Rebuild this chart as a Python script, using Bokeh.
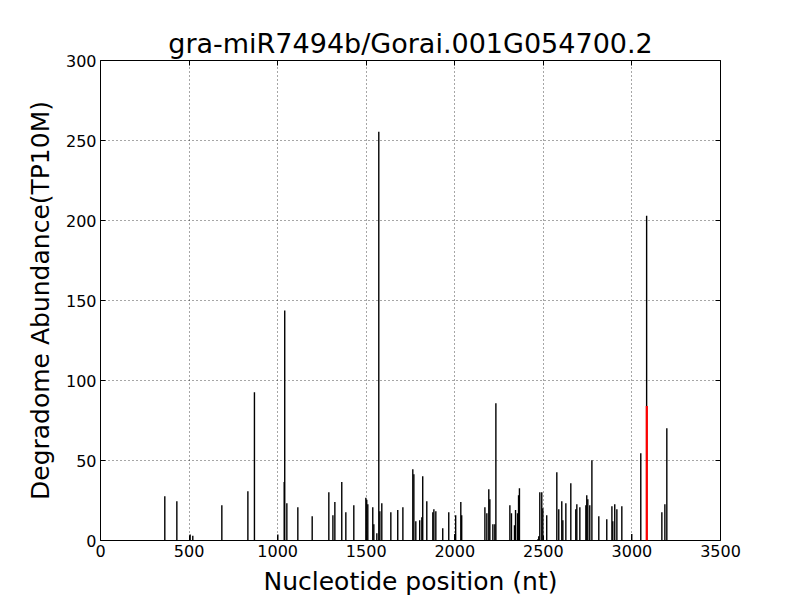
from bokeh.plotting import figure
from bokeh.models import LinearAxis, Range1d, FixedTicker
from bokeh.embed import file_html
from bokeh.resources import INLINE

positions = [363, 431, 506, 521, 685, 832, 869, 1001, 1037, 1040, 1052, 1114,
             1195, 1289, 1312, 1323, 1362, 1385, 1430, 1498, 1503, 1509, 1537,
             1543, 1560, 1571, 1577, 1588, 1639, 1678, 1707, 1763, 1769, 1780,
             1802, 1814, 1819, 1842, 1876, 1882, 1893, 1932, 1966, 2000, 2005,
             2034, 2039, 2170, 2181, 2192, 2198, 2215, 2226, 2232, 2311, 2320,
             2337, 2343, 2354, 2360, 2365, 2469, 2474, 2480, 2491, 2497, 2519,
             2576, 2587, 2604, 2610, 2627, 2655, 2683, 2689, 2706, 2740, 2745,
             2751, 2762, 2774, 2813, 2858, 2887, 2892, 2903, 2915, 2943, 2999,
             3050, 3083, 3169, 3186, 3197]
abundance = [27.7, 24.6, 3.8, 2.9, 22.1, 30.8, 92.7, 3.8, 36.5, 143.7, 23.3, 20.8,
             15.2, 30.2, 15.8, 24.0, 36.5, 17.7, 22.1, 26.7, 25.4, 22.7, 20.8,
             10.2, 4.6, 255.5, 18.3, 23.3, 17.7, 19.0, 20.8, 44.6, 41.4, 12.1,
             12.7, 14.6, 40.2, 24.6, 17.7, 19.6, 18.3, 7.7, 17.7, 4.0, 15.8,
             24.0, 15.8, 20.8, 17.1, 32.1, 25.8, 10.2, 10.2, 85.8, 22.1, 17.1,
             9.6, 19.0, 17.1, 28.3, 32.7, 0.8, 2.7, 30.2, 30.2, 20.2, 15.8,
             42.7, 19.6, 24.6, 12.7, 23.3, 35.8, 19.6, 22.7, 20.8, 22.1, 28.3,
             25.8, 22.1, 50.2, 15.2, 13.3, 21.4, 12.1, 22.7, 19.6, 21.4, 4.0,
             54.6, 203.0, 17.7, 22.7, 70.2]
target_pos = [3084]
target_abundance = [84.0]

x_ticks = [0, 500, 1000, 1500, 2000, 2500, 3000, 3500]
y_ticks = [0, 50, 100, 150, 200, 250, 300]

p = figure(output_backend="svg", toolbar_location=None,
           frame_width=620, frame_height=480,
           min_border_left=100, min_border_right=80,
           min_border_top=60, min_border_bottom=60,
           x_range=Range1d(0, 3500), y_range=Range1d(0, 300),
           title="gra-miR7494b/Gorai.001G054700.2")

p.title.align = "center"
p.title.text_font = "DejaVu Sans"
p.title.text_font_size = "27px"
p.title.text_font_style = "normal"
p.title.text_color = "black"
p.title.offset = 0
p.title.standoff = 3

p.outline_line_color = "black"
p.outline_line_width = 1
p.background_fill_color = "white"

p.segment(x0=positions, y0=[0] * len(positions), x1=positions, y1=abundance,
          line_color="black", line_width=1.4)
p.segment(x0=target_pos, y0=[0], x1=target_pos, y1=target_abundance,
          line_color="red", line_width=2.2)

for ax in [p.xaxis[0], p.yaxis[0]]:
    ax.major_tick_in = 5
    ax.major_tick_out = 0
    ax.minor_tick_in = 0
    ax.minor_tick_out = 0
    ax.axis_line_color = None
    ax.major_label_text_font = "DejaVu Sans"
    ax.major_label_text_font_size = "16px"
    ax.major_label_text_color = "black"
    ax.axis_label_text_font = "DejaVu Sans"
    ax.axis_label_text_font_style = "normal"
    ax.axis_label_text_color = "black"
    ax.axis_label_text_font_size = "25px"

p.xaxis[0].ticker = FixedTicker(ticks=x_ticks)
p.yaxis[0].ticker = FixedTicker(ticks=y_ticks)
p.xaxis[0].axis_label = "Nucleotide position (nt)"
p.yaxis[0].axis_label = "Degradome Abundance(TP10M)"
p.xaxis[0].major_label_standoff = 4
p.yaxis[0].major_label_standoff = 4
p.xaxis[0].axis_label_standoff = 7
p.yaxis[0].axis_label_standoff = 8

for loc, tks in [("right", y_ticks), ("above", x_ticks)]:
    a = LinearAxis(ticker=FixedTicker(ticks=tks))
    a.major_label_overrides = {t: "" for t in tks}
    a.major_tick_in = 5
    a.major_tick_out = 0
    a.minor_tick_in = 0
    a.minor_tick_out = 0
    a.axis_line_color = None
    a.major_label_standoff = 0
    p.add_layout(a, loc)

p.xgrid[0].ticker = FixedTicker(ticks=x_ticks)
p.ygrid[0].ticker = FixedTicker(ticks=y_ticks)
for g in [p.xgrid[0], p.ygrid[0]]:
    g.grid_line_color = "black"
    g.grid_line_alpha = 0.7
    g.grid_line_width = 1
    g.grid_line_dash = "1 3"

open("out.html", "w").write(file_html(p, INLINE))
